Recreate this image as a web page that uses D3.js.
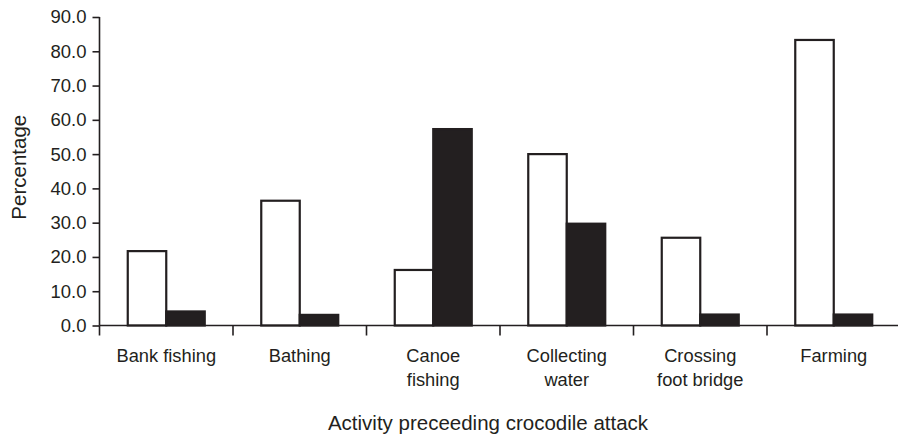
<!DOCTYPE html>
<html>
<head>
<meta charset="utf-8">
<script src="https://cdn.jsdelivr.net/npm/d3@7"></script>
<style>
  html, body { margin: 0; padding: 0; background: #fff; }
  svg { display: block; font-family: "Liberation Sans", Arial, Helvetica, sans-serif; }
</style>
</head>
<body>
<svg id="chart" width="898" height="438"></svg>
<script>
// ---- data ----
const categories = ["Bank fishing", "Bathing", "Canoe fishing", "Collecting water", "Crossing foot bridge", "Farming"];
const categoryLines = [["Bank fishing"], ["Bathing"], ["Canoe", "fishing"], ["Collecting", "water"], ["Crossing", "foot bridge"], ["Farming"]];
const seriesNames = ["open", "filled"];
const openValues = [21.7, 36.4, 16.2, 50.0, 25.6, 83.3];
const filledValues = [4.1, 3.1, 57.3, 29.7, 3.2, 3.2];
const yTicks = [0, 10, 20, 30, 40, 50, 60, 70, 80, 90];
const yTitle = "Percentage";
const xTitle = "Activity preceeding crocodile attack";

// ---- layout ----
const ink = "#231f20";
const svg = d3.select("#chart");
const plotLeft = 99.5, plotRight = 900.5, plotTop = 17, plotBottom = 325.5;

const x0 = d3.scaleBand().domain(categories).range([plotLeft, plotRight]).paddingInner(0).paddingOuter(0);
const x1 = d3.scaleBand().domain(seriesNames).range([0, x0.bandwidth()]).paddingInner(0).paddingOuter(0.734);
const y = d3.scaleLinear().domain([0, 90]).range([plotBottom, plotTop]);

const rows = categories.map((c, i) => ({ cat: c, vals: [
  { s: "open", v: openValues[i] },
  { s: "filled", v: filledValues[i] }
]}));

// bars
const g = svg.append("g");
g.selectAll("g.cat").data(rows).join("g")
  .attr("class", "cat")
  .attr("transform", d => `translate(${x0(d.cat)},0)`)
  .selectAll("rect").data(d => d.vals).join("rect")
  .attr("x", d => x1(d.s))
  .attr("width", x1.bandwidth())
  .attr("y", d => y(d.v))
  .attr("height", d => y(0) - y(d.v))
  .attr("fill", d => d.s === "open" ? "#ffffff" : ink)
  .attr("stroke", ink)
  .attr("stroke-width", 2.2);

// y axis
const yAxis = svg.append("g")
  .attr("transform", `translate(${plotLeft},0)`)
  .call(d3.axisLeft(y).tickValues(yTicks).tickFormat(d3.format(".1f")).tickSize(7).tickPadding(6));
yAxis.select(".domain").attr("d", `M0,${plotTop}V${plotBottom}`);
yAxis.selectAll("line, path").attr("stroke", ink).attr("stroke-width", 1.6);
yAxis.selectAll("text").attr("fill", ink).style("font-size", "18.5px")
  .style("font-family", '"Liberation Sans", Arial, sans-serif');

// x axis baseline + category ticks
const xAxisG = svg.append("g").attr("transform", `translate(0,${plotBottom})`);
xAxisG.append("line").attr("x1", plotLeft).attr("x2", 898).attr("y1", 0).attr("y2", 0)
  .attr("stroke", ink).attr("stroke-width", 1.6);
xAxisG.selectAll("line.tk").data(categories).join("line")
  .attr("class", "tk")
  .attr("x1", d => x0(d)).attr("x2", d => x0(d))
  .attr("y1", 0).attr("y2", 10)
  .attr("stroke", ink).attr("stroke-width", 1.6);

// category labels
const labels = svg.append("g");
labels.selectAll("text").data(categories).join("text")
  .attr("x", d => x0(d) + x0.bandwidth() / 2)
  .attr("y", 362)
  .attr("text-anchor", "middle")
  .attr("fill", ink)
  .style("font-size", "18.3px")
  .each(function(d, i) {
    const t = d3.select(this);
    categoryLines[i].forEach((ln, j) => {
      t.append("tspan").attr("x", x0(d) + x0.bandwidth() / 2).attr("dy", j === 0 ? 0 : 23.5).text(ln);
    });
  });

// titles
svg.append("text")
  .attr("transform", `translate(26,${(plotTop + plotBottom) / 2 - 4}) rotate(-90)`)
  .attr("text-anchor", "middle")
  .attr("fill", ink)
  .style("font-size", "20.5px")
  .text(yTitle);

svg.append("text")
  .attr("x", 488)
  .attr("y", 430)
  .attr("text-anchor", "middle")
  .attr("fill", ink)
  .style("font-size", "20.5px")
  .text(xTitle);
</script>
</body>
</html>
